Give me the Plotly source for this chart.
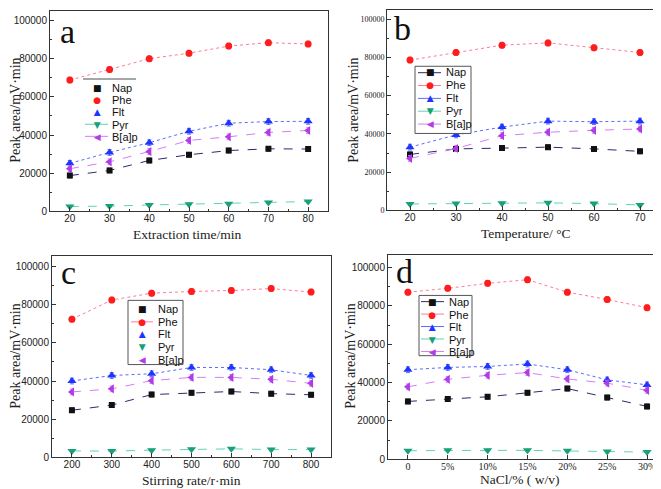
import plotly.graph_objects as go

SERIES = ["Nap", "Phe", "Flt", "Pyr", "B[a]p"]

# Panel a: extraction time
A_X = [20, 30, 40, 50, 60, 70, 80]
A_NAP = [18800, 21500, 26700, 29700, 31900, 32800, 32700]
A_PHE = [68800, 74300, 80000, 82900, 86600, 88400, 87700]
A_FLT = [25200, 30900, 36000, 42000, 46200, 47100, 47200]
A_PYR = [2600, 2800, 3400, 3800, 4000, 4700, 5200]
A_BAP = [22400, 26000, 31400, 37200, 39100, 41400, 42400]

# Panel b: temperature
B_X = [20, 30, 40, 50, 60, 70]
B_NAP = [29300, 32200, 32600, 33100, 32200, 30900]
B_PHE = [78600, 82600, 86400, 87600, 85000, 82600]
B_FLT = [33100, 39500, 43600, 46700, 46400, 46700]
B_PYR = [3400, 3600, 3800, 4000, 3600, 2900]
B_BAP = [27200, 32400, 39100, 40900, 41900, 42600]

# Panel c: stirring rate
C_X = [200, 300, 400, 500, 600, 700, 800]
C_NAP = [24700, 27400, 32900, 33800, 34500, 33400, 32800]
C_PHE = [72400, 82400, 86000, 86900, 87400, 88400, 86600]
C_FLT = [40000, 42900, 43800, 47100, 47100, 45900, 42900]
C_PYR = [3400, 3300, 3800, 4300, 4500, 4100, 4100]
C_BAP = [34300, 35900, 40200, 41900, 41900, 40900, 38800]

# Panel d: NaCl
D_X = ["0", "5%", "10%", "15%", "20%", "25%", "30%"]
D_NAP = [30200, 31400, 32600, 34700, 36900, 32200, 27600]
D_PHE = [87100, 89100, 91700, 93600, 87100, 83300, 79000]
D_FLT = [46700, 47900, 48400, 49700, 46700, 41400, 38800]
D_PYR = [4500, 4700, 4700, 4700, 4500, 4100, 3800]
D_BAP = [37800, 41700, 43800, 45200, 41900, 39700, 36000]

# approximate error bar half-widths per series
ERR = [1200, 1500, 1500, 600, 1500]

MARKER_COLORS = ["#111111", "#ff1c1c", "#1f35ff", "#17a07a", "#b03ce8"]
LINE_COLORS = ["#2a2a70", "#ff7a9a", "#5a6aff", "#5fd4b0", "#d77cf5"]
SYMBOLS = ["square", "circle", "triangle-up", "triangle-down", "triangle-left"]
SIZES = [6, 7, 8, 8, 8]
DASHES = ["dash", "dot", "dot", "dash", "dash"]
GLYPHS = ["\u25A0", "\u25CF", "\u25B2", "\u25BC", "\u25C0"]

W, H = 661, 489
SERIF = "Liberation Serif, Times New Roman, serif"
SANS = "Liberation Sans, Arial, sans-serif"

fig = go.Figure()

panels = [
    dict(x=A_X, ys=[A_NAP, A_PHE, A_FLT, A_PYR, A_BAP], px=(42, 320), py=(3, 206),
         xr=[15, 85], yr=[0, 105000], xdt=10, xminor=5, title="Extraction time/min",
         letter="a", letter_xy=(50, 3), xt_xy=(179, 229), yt_xy=(8, 104),
         xtick_font=dict(family=SANS, size=10, color="#222"),
         ytick_font=dict(family=SANS, size=10, color="#222")),
    dict(x=B_X, ys=[B_NAP, B_PHE, B_FLT, B_PYR, B_BAP], px=(379, 655), py=(2, 205),
         xr=[15, 75], yr=[0, 104800], xdt=10, xminor=5, title="Temperature/ \u00b0C",
         letter="b", letter_xy=(384, 0), xt_xy=(518, 228), yt_xy=(346, 104),
         xtick_font=dict(family=SANS, size=10, color="#222"),
         ytick_font=dict(family=SERIF, size=8, color="#222")),
    dict(x=C_X, ys=[C_NAP, C_PHE, C_FLT, C_PYR, C_BAP], px=(44, 323), py=(251, 455),
         xr=[150, 850], yr=[0, 105500], xdt=100, xminor=50, title="Stirring rate/r\u00b7min",
         letter="c", letter_xy=(51, 247), xt_xy=(183, 478), yt_xy=(8, 353),
         xtick_font=dict(family=SANS, size=10, color="#222"),
         ytick_font=dict(family=SANS, size=10, color="#222")),
    dict(x=D_X, ys=[D_NAP, D_PHE, D_FLT, D_PYR, D_BAP], px=(380, 653), py=(250, 457),
         xr=[-0.5, 6.35], yr=[0, 106500], xdt=None, xminor=None, title="NaCl/% ( w/v)",
         letter="d", letter_xy=(386, 246), xt_xy=(511, 477), yt_xy=(343, 353),
         xtick_font=dict(family=SERIF, size=10, color="#222"),
         ytick_font=dict(family=SANS, size=10, color="#222")),
]

# legend geometry: centre y of the block, pitch font size (line pitch = 1.3 * size)
legends = [
    dict(box=None, topline=(75, 128, 72), cy=105.5, fs=9.4, mx=89, tx=102,
         lines=[False, False, False, True, True], lx=(77, 100)),
    dict(box=(407, 463, 59, 127), topline=None, cy=91.5, fs=10, mx=422, tx=436,
         lines=[True] * 5, lx=(410, 433)),
    dict(box=(120, 175, 296, 361), topline=None, cy=330.5, fs=9.8, mx=134, tx=148,
         lines=[False, True, False, False, False], lx=(123, 145)),
    dict(box=(411, 464, 291, 352), topline=None, cy=322.5, fs=9.7, mx=425, tx=439,
         lines=[True] * 5, lx=(413, 436)),
]
LEGEND_TEXT_PX = 11
LEGEND_GLYPH_PX = 9

annotations = []
shapes = []
layout_axes = {}

for i, p in enumerate(panels):
    n = "" if i == 0 else str(i + 1)
    xa, ya = "x" + n, "y" + n
    for s in range(5):
        fig.add_trace(go.Scatter(
            x=p["x"], y=p["ys"][s], xaxis=xa, yaxis=ya, mode="lines+markers",
            name=SERIES[s], showlegend=False,
            line=dict(color=LINE_COLORS[s], width=1, dash=DASHES[s]),
            marker=dict(symbol=SYMBOLS[s], size=SIZES[s], color=MARKER_COLORS[s]),
            error_y=dict(type="constant", value=ERR[s], color=LINE_COLORS[s],
                         thickness=1, width=2),
        ))
    x0, x1 = p["px"]
    y0, y1 = p["py"]
    xaxis = dict(
        domain=[x0 / W, x1 / W], anchor=ya, range=p["xr"],
        showline=True, linecolor="#333", linewidth=1, mirror=True,
        ticks="inside", ticklen=4, tickcolor="#333", showgrid=False, zeroline=False,
        tickfont=p["xtick_font"], ticklabelstandoff=-2,
    )
    if p["xdt"] is not None:
        xaxis.update(tickmode="linear", tick0=p["x"][0], dtick=p["xdt"],
                     minor=dict(ticks="inside", ticklen=2, dtick=p["xminor"],
                                tick0=p["x"][0], tickcolor="#333", showgrid=False))
    else:
        xaxis.update(type="category", categoryorder="array", categoryarray=p["x"])
    yaxis = dict(
        domain=[1 - y1 / H, 1 - y0 / H], anchor=xa, range=p["yr"],
        showline=True, linecolor="#333", linewidth=1, mirror=True,
        ticks="inside", ticklen=4, tickcolor="#333", showgrid=False, zeroline=False,
        tickmode="linear", tick0=0, dtick=20000, tickformat="d",
        minor=dict(ticks="inside", ticklen=2, dtick=10000, tickcolor="#333", showgrid=False),
        tickfont=p["ytick_font"],
    )
    layout_axes["xaxis" + n] = xaxis
    layout_axes["yaxis" + n] = yaxis

    # panel letter
    annotations.append(dict(text=p["letter"], xref="paper", yref="paper",
                            x=p["letter_xy"][0] / W, y=1 - p["letter_xy"][1] / H,
                            xanchor="left", yanchor="top", showarrow=False,
                            font=dict(family=SERIF, size=34, color="#111")))
    # axis titles
    annotations.append(dict(text=p["title"], xref="paper", yref="paper",
                            x=p["xt_xy"][0] / W, y=1 - p["xt_xy"][1] / H,
                            xanchor="center", yanchor="middle", showarrow=False,
                            font=dict(family=SERIF, size=13.5, color="#222")))
    annotations.append(dict(text="Peak area/mV\u00b7min", xref="paper", yref="paper",
                            x=p["yt_xy"][0] / W, y=1 - p["yt_xy"][1] / H, textangle=-90,
                            xanchor="center", yanchor="middle", showarrow=False,
                            font=dict(family=SERIF, size=14, color="#222")))

    # legend (drawn as a box/line plus two multi-line text blocks with equal pitch)
    lg = legends[i]
    fs = lg["fs"]
    pitch = 1.3 * fs
    if lg["box"] is not None:
        bx0, bx1, by0, by1 = lg["box"]
        shapes.append(dict(type="rect", xref="paper", yref="paper",
                           x0=bx0 / W, x1=bx1 / W, y0=1 - by1 / H, y1=1 - by0 / H,
                           line=dict(color="#555", width=1), fillcolor="white", layer="above"))
    if lg["topline"] is not None:
        tx0, tx1, ty = lg["topline"]
        shapes.append(dict(type="line", xref="paper", yref="paper",
                           x0=tx0 / W, x1=tx1 / W, y0=1 - ty / H, y1=1 - ty / H,
                           line=dict(color="#888", width=1.5), layer="above"))
    for s in range(5):
        if lg["lines"][s]:
            yy = 1 - (lg["cy"] + (s - 2) * pitch) / H
            shapes.append(dict(type="line", xref="paper", yref="paper",
                               x0=lg["lx"][0] / W, x1=lg["lx"][1] / W, y0=yy, y1=yy,
                               line=dict(color=LINE_COLORS[s], width=1), layer="above"))
    glyph_text = "<br>".join(
        '<span style="color:%s;font-size:%dpx">%s</span>'
        % (MARKER_COLORS[s], LEGEND_GLYPH_PX, GLYPHS[s]) for s in range(5))
    annotations.append(dict(text=glyph_text, xref="paper", yref="paper",
                            x=lg["mx"] / W, y=1 - lg["cy"] / H, xanchor="center",
                            yanchor="middle", showarrow=False, align="center",
                            font=dict(family="DejaVu Sans", size=fs, color="#111")))
    label_text = "<br>".join(
        '<span style="font-size:%dpx">%s</span>' % (LEGEND_TEXT_PX, name) for name in SERIES)
    annotations.append(dict(text=label_text, xref="paper", yref="paper",
                            x=lg["tx"] / W, y=1 - lg["cy"] / H, xanchor="left",
                            yanchor="middle", showarrow=False, align="left",
                            font=dict(family=SANS, size=fs, color="#111")))

fig.update_layout(
    width=W, height=H, margin=dict(l=0, r=0, t=0, b=0),
    paper_bgcolor="white", plot_bgcolor="white", showlegend=False,
    annotations=annotations, shapes=shapes, **layout_axes,
)

fig.write_html("out.html")
